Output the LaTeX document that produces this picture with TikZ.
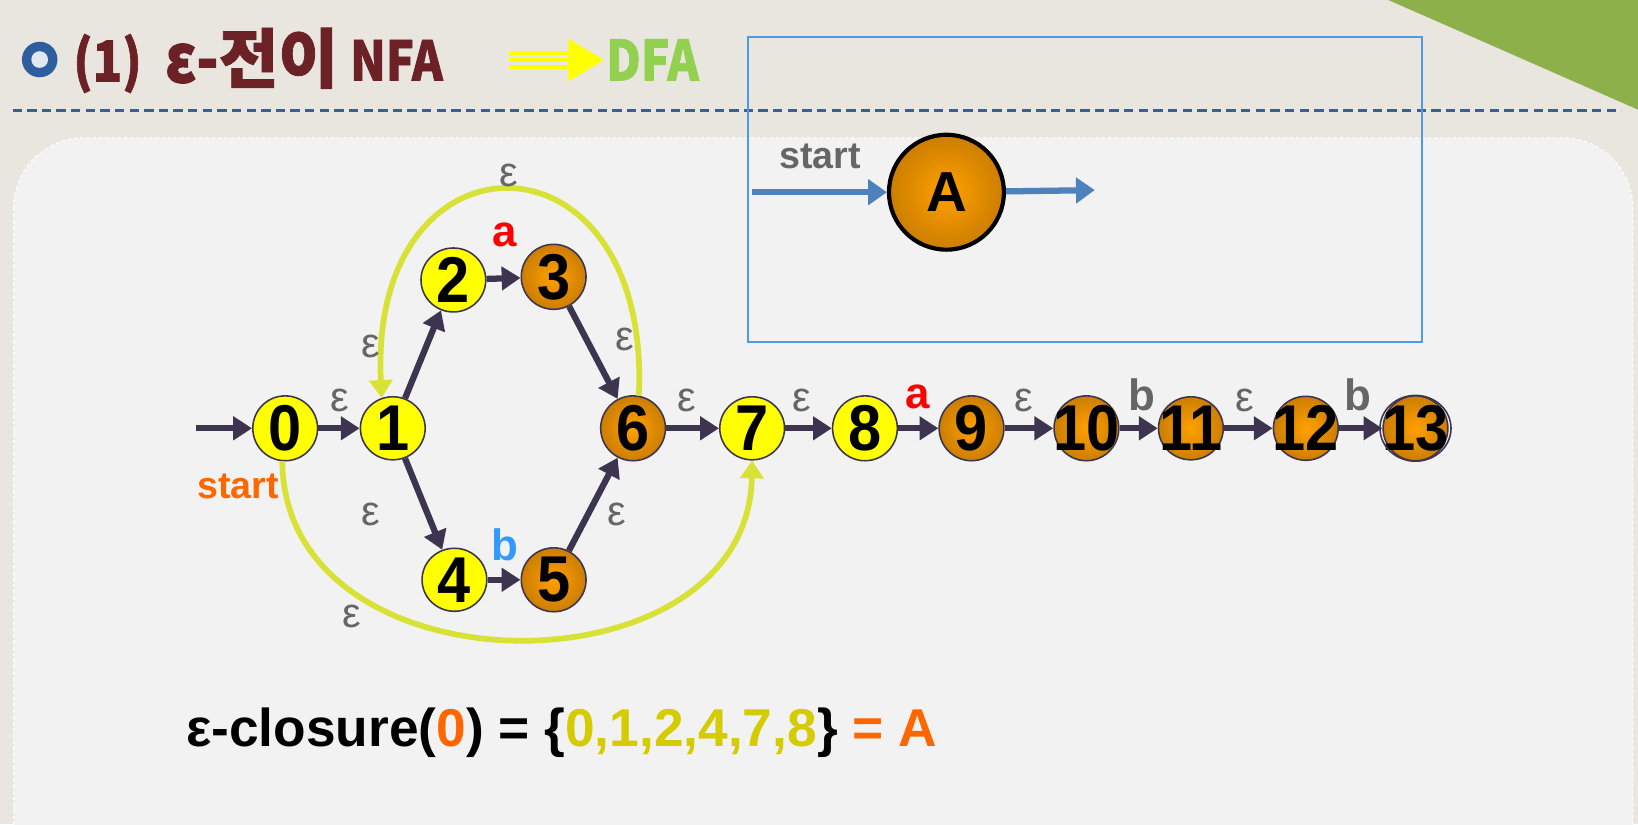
\documentclass[tikz,border=0pt]{standalone}
\usepackage{fontspec}
\setmainfont{Liberation Sans}
\newfontfamily\krfont[FakeBold=1.2,FakeStretch=0.86]{Noto Sans CJK KR}
\newfontfamily\krwide[FakeBold=1.2]{Noto Sans CJK KR}
\newfontfamily\digfont[FakeStretch=0.92]{Liberation Sans}
\usetikzlibrary{arrows.meta,shapes.geometric}
\definecolor{bgcol}{HTML}{E9E6DF}
\definecolor{panelcol}{HTML}{F2F2F2}
\definecolor{leafgreen}{HTML}{8DB04A}
\definecolor{titlered}{HTML}{6B2125}
\definecolor{dashcol}{HTML}{3D5F8F}
\definecolor{boxblue}{HTML}{4C9BE8}
\definecolor{dfablue}{HTML}{4F81BD}
\definecolor{edgecol}{HTML}{3D3550}
\definecolor{arccol}{HTML}{D8E236}
\definecolor{epsgray}{HTML}{666666}
\definecolor{ared}{HTML}{FF0000}
\definecolor{bblue}{HTML}{3399FF}
\definecolor{startor}{HTML}{FF6600}
\definecolor{setyel}{HTML}{D4CC00}
\definecolor{dfagreen}{HTML}{92D050}
\definecolor{nodeyel}{HTML}{FFFF00}
\definecolor{orin}{HTML}{FFA000}
\definecolor{orout}{HTML}{CC7E00}
\definecolor{bulletblue}{HTML}{2E5E9E}
\begin{document}
\begin{tikzpicture}[x=1pt,y=-1pt,
  st/.style={ellipse, draw=edgecol, line width=1.5pt, minimum width=62pt, minimum height=58pt,
    inner xsep=-18pt, inner ysep=0pt, font=\digfont\fontsize{62}{62}\selectfont\bfseries},
  yel/.style={fill=nodeyel},
  orn/.style={inner color=orin, outer color=orout},
  edge/.style={draw=edgecol, line width=6pt, -{Triangle[length=18pt,width=22pt]}},
  arcline/.style={draw=arccol, line width=5.5pt, -{Triangle[length=17pt,width=22pt]}},
  eps/.style={text=epsgray, font=\fontsize{40}{40}\selectfont, inner sep=0pt},
  sym/.style={font=\fontsize{42}{42}\selectfont\bfseries, inner sep=0pt},
  dfaarrow/.style={draw=dfablue, line width=6pt, -{Triangle[length=18pt,width=24pt]}},
  ttl/.style={anchor=base west, inner sep=0pt, text=titlered}
]
\useasboundingbox (0,0) rectangle (1568,788.8);
\clip (0,0) rectangle (1568,788.8);
% background
\fill[bgcol] (0,0) rectangle (1568,788.8);
\fill[leafgreen] (1329,0) -- (1568,0) -- (1568,105) -- cycle;
\fill[panelcol, rounded corners=67pt] (13,132) rectangle (1563,900);
\draw[white, line width=1pt, dashed, rounded corners=67pt] (13,132) rectangle (1563,900);
% title
\fill[bulletblue] (38,57) circle (17pt);
\fill[white!85!bulletblue] (38,57) circle (8pt);
\node[ttl, font=\krfont\bfseries\fontsize{54}{54}\selectfont] (t1) at (70,78) {(1)};
\node[ttl, font=\krfont\bfseries\fontsize{64}{64}\selectfont] (t2) at (158,79) {ε-};
\node[ttl, font=\krwide\bfseries\fontsize{62}{62}\selectfont] (t2b) at (t2.base east) {전이};
\node[ttl, font=\krfont\bfseries\fontsize{52}{52}\selectfont] (t3) at (335,77) {NFA};
\fill[nodeyel] (487,49) rectangle (546,53);
\fill[nodeyel] (487,55.5) rectangle (546,59.5);
\fill[nodeyel] (487,62) rectangle (546,66);
\fill[nodeyel] (544,37) -- (578,57.5) -- (544,78) -- cycle;
\node[anchor=base west, inner sep=0pt, text=dfagreen, font=\krfont\bfseries\fontsize{53}{53}\selectfont] (dfa) at (580,77) {DFA};
\draw[dashcol, line width=2.5pt, dash pattern=on 9pt off 5pt] (12,106) -- (1552,106);
% DFA box
\draw[boxblue, line width=2pt] (716,35) rectangle (1361,327);
\node[circle, draw=black, line width=4pt, minimum size=110pt, inner sep=0pt, inner color=orin, outer color=orout,
  font=\fontsize{54}{54}\selectfont\bfseries] (A) at (906,184) {A};
\node[text=epsgray, font=\fontsize{36}{36}\selectfont\bfseries, inner sep=0pt] (dstart) at (785,150) {start};
\coordinate (ds) at (720,184);
\coordinate (de) at (1048,182);
\draw[dfaarrow] (ds) -- (A);
\draw[dfaarrow] (A) -- (de);
% NFA nodes
\node[st,yel] (n0) at (273,410) {0};
\node[st,yel] (n1) at (376,410) {1};
\node[st,yel] (n2) at (434,268) {2};
\node[st,orn] (n3) at (530,265) {3};
\node[st,yel] (n4) at (435,555) {4};
\node[st,orn] (n5) at (530,555) {5};
\node[st,orn] (n6) at (606,410) {6};
\node[st,yel] (n7) at (720,410) {7};
\node[st,yel] (n8) at (828,410) {8};
\node[st,orn] (n9) at (930,410) {9};
\node[st,orn] (n10) at (1040,410) {10};
\node[st,orn] (n11) at (1140,410) {11};
\node[st,orn] (n12) at (1250,410) {12};
\node[st,orn] (n13) at (1355,410) {13};
\draw[edgecol, line width=1.5pt] (n13.center) ellipse [x radius=34pt, y radius=31.5pt];
\coordinate (s0) at (188,410);
% edges
\draw[edge] (s0) -- (n0);
\draw[edge] (n0) -- (n1);
\draw[edge] (n1) -- (n2);
\draw[edge] (n2) -- (n3);
\draw[edge] (n3) -- (n6);
\draw[edge] (n1) -- (n4);
\draw[edge] (n4) -- (n5);
\draw[edge] (n5) -- (n6);
\draw[edge] (n6) -- (n7);
\draw[edge] (n7) -- (n8);
\draw[edge] (n8) -- (n9);
\draw[edge] (n9) -- (n10);
\draw[edge] (n10) -- (n11);
\draw[edge] (n11) -- (n12);
\draw[edge] (n12) -- (n13);
% epsilon arcs
\draw[arcline] (n6.80) .. controls (624,116) and (352,116) .. (n1.110);
\draw[arcline] (n0.265) .. controls (272,668) and (716,668) .. (n7.270);
% labels
\node[eps] (l01) at (325,383) {ε};
\node[eps] (l12) at (355,332) {ε};
\node[eps] (l36) at (598,325) {ε};
\node[eps] (ltop) at (487,168) {ε};
\node[eps] (l14) at (355,492) {ε};
\node[eps] (l56) at (590,492) {ε};
\node[eps] (lbot) at (337,590) {ε};
\node[eps] (l67) at (657,383) {ε};
\node[eps] (l78) at (768,383) {ε};
\node[eps] (l910) at (980,383) {ε};
\node[eps] (l1112) at (1192,383) {ε};
\node[sym, text=ared] (l23) at (483,225) {a};
\node[sym, text=bblue] (l45) at (483,522) {b};
\node[sym, text=ared] (l89) at (878,380) {a};
\node[sym, text=epsgray] (l1011) at (1093,378) {b};
\node[sym, text=epsgray] (l1213) at (1300,378) {b};
\node[text=startor, font=\fontsize{36}{36}\selectfont\bfseries, inner sep=0pt] (nstart) at (228,466) {start};
% formula
\node[anchor=base west, inner sep=0pt, font=\fontsize{51}{51}\selectfont\bfseries] (closure) at (178,715)
  {ε-closure(\textcolor{startor}{0}) = \{\textcolor{setyel}{0,1,2,4,7,8}\} \textcolor{startor}{= A}};
\end{tikzpicture}
\end{document}
